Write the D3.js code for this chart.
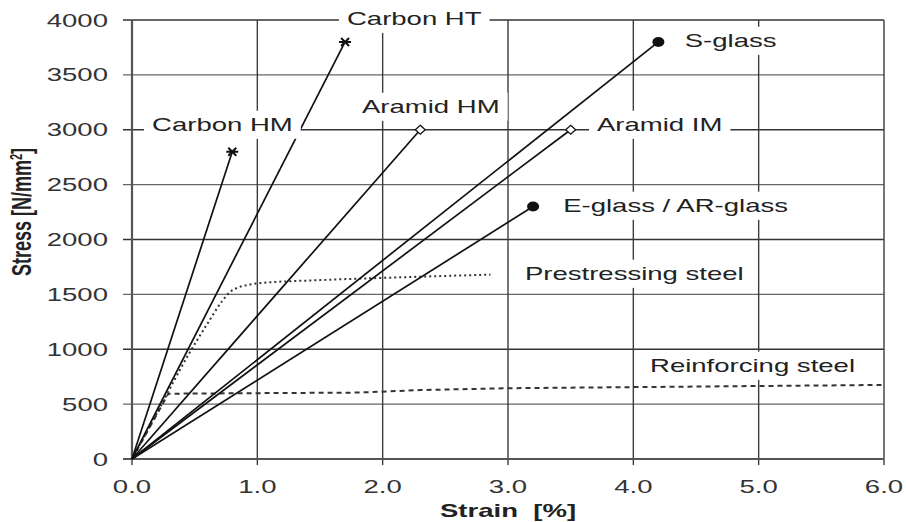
<!DOCTYPE html>
<html lang="en">
<head>
    <meta charset="UTF-8">
    <title>Stress-strain of fibres and steel</title>
    <script src="https://cdn.jsdelivr.net/npm/d3@7"></script>
    <style>
        body{
            margin: 0;
            background: #fff;
        }
        text{
            font-family: "Liberation Sans", Arial, sans-serif;
            fill: #222;
        }
        .grid line{
            stroke: #555;
            stroke-width: 1.3;
        }
    </style>
</head>
<body>
<svg id="chart" width="906" height="522"></svg>

<script>
    // axis ticks
    const strainTicks = [0, 1, 2, 3, 4, 5, 6];
    const stressTicks = [0, 500, 1000, 1500, 2000, 2500, 3000, 3500, 4000];

    // fibres: linear elastic up to failure
    const fibres = ["Carbon HM", "Carbon HT", "Aramid HM", "Aramid IM", "S-glass", "E-glass / AR-glass"];
    const fibreStrain = [0.8, 1.7, 2.3, 3.5, 4.2, 3.2];
    const fibreStress = [2800, 3800, 3000, 3000, 3800, 2300];

    // steels
    const prestressStrain = [0, 0.2, 0.44, 0.6, 0.72, 0.78, 0.84, 0.92, 1.0, 1.5, 2.0, 2.86];
    const prestressStress = [0, 420, 930, 1230, 1440, 1520, 1560, 1585, 1600, 1630, 1650, 1680];
    const reinforceStrain = [0, 0.29, 1.0, 1.8, 2.3, 3.0, 4.0, 5.0, 6.0];
    const reinforceStress = [0, 595, 600, 605, 628, 645, 655, 665, 675];

    // where the labels go (left edge strain, baseline stress)
    const labelNames = ["Carbon HT", "Carbon HM", "Aramid HM", "S-glass", "Aramid IM", "E-glass / AR-glass", "Prestressing steel", "Reinforcing steel"];
    const labelStrain = [1.715, 0.16, 1.835, 4.41, 3.71, 3.44, 3.135, 4.133];
    const labelStress = [3954, 2989, 3153, 3754, 2989, 2251, 1631, 793];

    const markerOf = {
        "Carbon HM": "asterisk", "Carbon HT": "asterisk",
        "Aramid HM": "diamond", "Aramid IM": "diamond",
        "S-glass": "dot", "E-glass / AR-glass": "dot"
    };

    const stretch = 1.53;   // the original picture is wide-stretched
    const fontSize = 18;

    const svg = d3.select("#chart");
    const x = d3.scaleLinear().domain([0, 6]).range([132, 884]);
    const y = d3.scaleLinear().domain([0, 4000]).range([459, 20]);

    function stretchedText(g, tx, ty, str, anchor) {
        return g.append("text")
            .attr("transform", `translate(${tx},${ty}) scale(${stretch},1)`)
            .attr("text-anchor", anchor)
            .attr("font-size", fontSize)
            .text(str);
    }

    // grid
    let grid = svg.append("g").attr("class", "grid");
    grid.selectAll(".hline").data(stressTicks).join("line")
        .attr("x1", x(0) - 9).attr("x2", x(6))
        .attr("y1", d => y(d)).attr("y2", d => y(d))
        .style("stroke", d => d % 1000 === 0 ? "#333" : "#666")
        .style("stroke-width", d => d % 1000 === 0 ? 1.7 : 1.2);
    grid.selectAll(".vline").data(strainTicks).join("line")
        .attr("y1", y(4000)).attr("y2", y(0) + 6)
        .attr("x1", d => x(d)).attr("x2", d => x(d))
        .style("stroke", "#3c3c3c")
        .style("stroke-width", 1.4);

    // axis lines
    svg.append("line").attr("x1", x(0)).attr("x2", x(0)).attr("y1", y(4000)).attr("y2", y(0))
        .attr("stroke", "#555").attr("stroke-width", 2.2);
    svg.append("line").attr("x1", x(0) - 9).attr("x2", x(6)).attr("y1", y(0)).attr("y2", y(0))
        .attr("stroke", "#555").attr("stroke-width", 2.2);

    // tick labels
    let tl = svg.append("g");
    stressTicks.forEach(v => stretchedText(tl, 108, y(v) + 6.5, v, "end").style("fill", "#333"));
    strainTicks.forEach(v => stretchedText(tl, x(v), 493, d3.format(".1f")(v), "middle").style("fill", "#333"));

    // axis titles
    svg.append("text")
        .attr("transform", `translate(${x(3)},517) scale(${stretch},1)`)
        .attr("text-anchor", "middle")
        .attr("font-size", fontSize)
        .attr("font-weight", "bold")
        .style("white-space", "pre")
        .text("Strain  [%]");
    let yt = svg.append("text")
        .attr("transform", `translate(31,212) scale(${stretch},1) rotate(-90)`)
        .attr("text-anchor", "middle")
        .attr("font-size", fontSize)
        .attr("font-weight", "bold");
    yt.append("tspan").text("Stress [N/mm");
    yt.append("tspan").attr("dy", -6).attr("font-size", 11).text("2");
    yt.append("tspan").attr("dy", 6).text("]");

    // steel curves
    const line = d3.line().x(d => x(d[0])).y(d => y(d[1]));
    svg.append("path")
        .datum(d3.zip(prestressStrain, prestressStress))
        .attr("d", line.curve(d3.curveMonotoneX))
        .attr("fill", "none").attr("stroke", "#333").attr("stroke-width", 2)
        .attr("stroke-dasharray", "2,3");
    svg.append("path")
        .datum(d3.zip(reinforceStrain, reinforceStress))
        .attr("d", line.curve(d3.curveLinear))
        .attr("fill", "none").attr("stroke", "#333").attr("stroke-width", 2)
        .attr("stroke-dasharray", "5,4");

    // fibre lines
    fibres.forEach((name, i) => {
        svg.append("line")
            .attr("x1", x(0)).attr("y1", y(0))
            .attr("x2", x(fibreStrain[i])).attr("y2", y(fibreStress[i]))
            .attr("stroke", "#111").attr("stroke-width", 1.7);
    });

    // markers
    fibres.forEach((name, i) => {
        let m = markerOf[name];
        let g = svg.append("g").attr("transform", `translate(${x(fibreStrain[i])},${y(fibreStress[i])})`);
        if (m === "asterisk") {
            g.append("path").attr("d", "M-6,0H6M-4,-4L4,4M-4,4L4,-4")
                .attr("fill", "none").attr("stroke", "#111").attr("stroke-width", 2);
        } else if (m === "diamond") {
            g.append("path").attr("d", "M0,-4.5L5,0L0,4.5L-5,0Z")
                .attr("fill", "#fff").attr("stroke", "#111").attr("stroke-width", 1.3);
        } else {
            g.append("ellipse").attr("rx", 6).attr("ry", 5).attr("fill", "#111");
        }
    });

    // labels with white boxes
    labelNames.forEach((name, i) => {
        let g = svg.append("g");
        let tx = x(labelStrain[i]), ty = y(labelStress[i]);
        let t = stretchedText(g, tx, ty, name, "start");
        let bb = t.node().getBBox();
        g.insert("rect", "text")
            .attr("x", tx + bb.x * stretch - 8)
            .attr("y", ty + bb.y - 4)
            .attr("width", bb.width * stretch + 16)
            .attr("height", bb.height + 8)
            .attr("fill", "#fff");
    });
</script>
</body>
</html>
